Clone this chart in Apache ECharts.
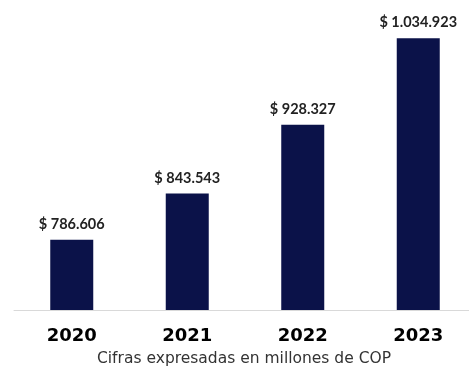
<!DOCTYPE html>
<html>
<head>
<meta charset="utf-8">
<script src="https://cdn.jsdelivr.net/npm/echarts@6/dist/echarts.min.js"></script>
<style>
  html, body { margin: 0; padding: 0; background: #ffffff; }
  #chart { width: 469px; height: 368px; }
</style>
</head>
<body>
<div id="chart"></div>
<script>
// Yearly figures, in millions of COP
const years = ['2020', '2021', '2022', '2023'];
const values = [786606, 843543, 928327, 1034923];
const footnote = 'Cifras expresadas en millones de COP';

// Spanish-style thousands separator: 1.034.923
function fmt(v) {
  return '$ ' + String(v).replace(/\B(?=(\d{3})+(?!\d))/g, '.');
}

const chart = echarts.init(document.getElementById('chart'), null, { renderer: 'canvas' });
chart.setOption({
  animation: false,
  backgroundColor: '#ffffff',
  grid: { left: 14, width: 462, top: 26, bottom: 58, outerBoundsMode: 'none', containLabel: false },
  title: {
    text: footnote,
    left: 239,
    textAlign: 'center',
    top: 346,
    textStyle: { fontFamily: 'DejaVu Sans', fontSize: 15.5, fontWeight: 'normal', color: '#333333' }
  },
  xAxis: {
    type: 'category',
    data: years,
    axisLine: { show: true, lineStyle: { color: '#d9d9d9', width: 1 } },
    axisTick: { show: false },
    axisLabel: {
      fontFamily: 'DejaVu Sans',
      fontWeight: 'bold',
      fontSize: 18,
      color: '#000000',
      margin: 17
    }
  },
  yAxis: {
    type: 'value',
    min: 700000,
    max: 1050000,
    show: false,
    splitLine: { show: false }
  },
  series: [{
    type: 'bar',
    data: values,
    barWidth: 43,
    itemStyle: { color: '#0b1249' },
    label: {
      show: true,
      position: 'top',
      distance: 8,
      formatter: p => fmt(p.value),
      fontFamily: 'Lato',
      fontWeight: 'bold',
      fontSize: 14.5,
      color: '#222222'
    }
  }]
});
</script>
</body>
</html>
